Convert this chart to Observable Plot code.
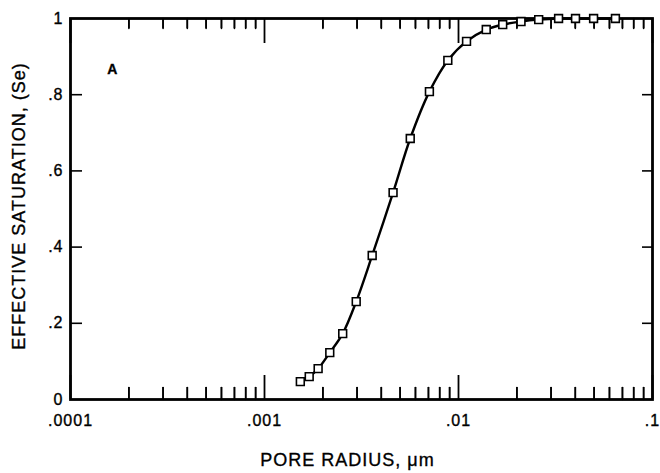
<!DOCTYPE html>
<html><head><meta charset="utf-8">
<script src="https://cdn.jsdelivr.net/npm/d3@7"></script>
<script src="https://cdn.jsdelivr.net/npm/@observablehq/plot@0.6"></script>
<style>
body{margin:0;background:#fff;overflow:hidden;}
#chart svg{font-family:'Liberation Sans', Arial, sans-serif; background:#fff;}
#chart svg text{letter-spacing:1px; stroke:black; stroke-width:0.35px; fill:black;}
</style></head><body><div id="chart"></div>
<script>
// Pore radius (µm) and effective saturation
const radius = [0.00153,0.00170,0.00189,0.00217,0.00253,0.00297,0.00359,0.00460,0.00564,0.00708,0.00881,0.0110,0.0139,0.0169,0.0210,0.0259,0.0328,0.0401,0.0497,0.0644];
const saturation = [0.047,0.060,0.081,0.123,0.173,0.257,0.378,0.543,0.685,0.808,0.890,0.940,0.971,0.984,0.992,0.997,1.0,1.0,1.0,1.0];

const xMajorTicks = [0.0001, 0.001, 0.01, 0.1];
const xTickLabels = [".0001", ".001", ".01", ".1"];
const xMinorTicks = [0.0002,0.0003,0.0004,0.0005,0.0006,0.0007,0.0008,0.0009,
                     0.002,0.003,0.004,0.005,0.006,0.007,0.008,0.009,
                     0.02,0.03,0.04,0.05,0.06,0.07,0.08,0.09];
const yTicks = [0, 0.2, 0.4, 0.6, 0.8, 1];
const yTickLabels = ["0", ".2", ".4", ".6", ".8", "1"];
const yInnerTicks = [0.2, 0.4, 0.6, 0.8];
const xLabel = "PORE RADIUS, \u03bcm";
const yLabel = "EFFECTIVE SATURATION, (Se)";
const panelLabel = ["A"];
const panelX = [0.000165];
const panelY = [0.865];

const data = radius.map((r, i) => ({r, s: saturation[i]}));
const majors = xMajorTicks.map(v => ({v}));
const minors = xMinorTicks.map(v => ({v}));
const yInner = yInnerTicks.map(v => ({v}));
const panel = panelLabel.map((t, i) => ({t, x: panelX[i], y: panelY[i]}));

const W = 660, H = 473, mt = 18, mb = 74, ml = 70, mr = 8;
const innerH = H - mt - mb, innerW = W - ml - mr;
const tickShape = {draw(context, l) { context.moveTo(0, 0); context.lineTo(0, -l); }};

const chart = Plot.plot({
  width: W, height: H,
  marginTop: mt, marginBottom: mb, marginLeft: ml, marginRight: mr,
  x: {type: "log", domain: [0.0001, 0.1]},
  y: {domain: [0, 1]},
  marks: [
    // inward ticks on all four sides
    Plot.tickX(majors, {x: "v", insetTop: innerH - 24, stroke: "black", strokeWidth: 1.8}),
    Plot.tickX(minors, {x: "v", insetTop: innerH - 12, stroke: "black", strokeWidth: 1.6}),
    Plot.tickX(majors, {x: "v", insetBottom: innerH - 25, stroke: "black", strokeWidth: 1.8}),
    Plot.tickX(minors, {x: "v", insetBottom: innerH - 10, stroke: "black", strokeWidth: 1.6}),
    Plot.vector(minors, {x: "v", frameAnchor: "bottom", anchor: "start", rotate: 0, length: 12,
      shape: tickShape, stroke: "black", strokeWidth: 1.6}),
    Plot.vector(minors, {x: "v", frameAnchor: "top", anchor: "start", rotate: 180, length: 10,
      shape: tickShape, stroke: "black", strokeWidth: 1.6}),
    Plot.tickY(yInner, {y: "v", insetRight: innerW - 12, stroke: "black", strokeWidth: 1.6}),
    Plot.tickY(yInner, {y: "v", insetLeft: innerW - 10, stroke: "black", strokeWidth: 1.6}),
    Plot.frame({stroke: "black", strokeWidth: 2.8}),
    Plot.axisX(xMajorTicks, {tickSize: 0, tickPadding: 15, fontSize: 16, label: null,
      tickFormat: d => xTickLabels[xMajorTicks.indexOf(d)]}),
    Plot.axisY(yTicks, {tickSize: 0, tickPadding: 7, fontSize: 16, label: null,
      tickFormat: d => yTickLabels[yTicks.indexOf(d)]}),
    Plot.line(data, {x: "r", y: "s", curve: "catmull-rom", stroke: "black", strokeWidth: 2.4}),
    Plot.dot(data, {x: "r", y: "s", symbol: "square", r: 4.4, fill: "white", stroke: "black", strokeWidth: 1.6}),
    Plot.text(panel, {x: "x", y: "y", text: "t", fontSize: 14, fontWeight: "bold"}),
    Plot.text([xLabel], {text: d => d, frameAnchor: "bottom", textAnchor: "middle", lineAnchor: "middle",
      dy: 61, dx: -14, fontSize: 18}),
    Plot.text([yLabel], {text: d => d, frameAnchor: "left", textAnchor: "middle", lineAnchor: "middle",
      rotate: -90, dx: -51, dy: -3, fontSize: 18})
  ]
});
document.getElementById("chart").append(chart);
</script></body></html>
